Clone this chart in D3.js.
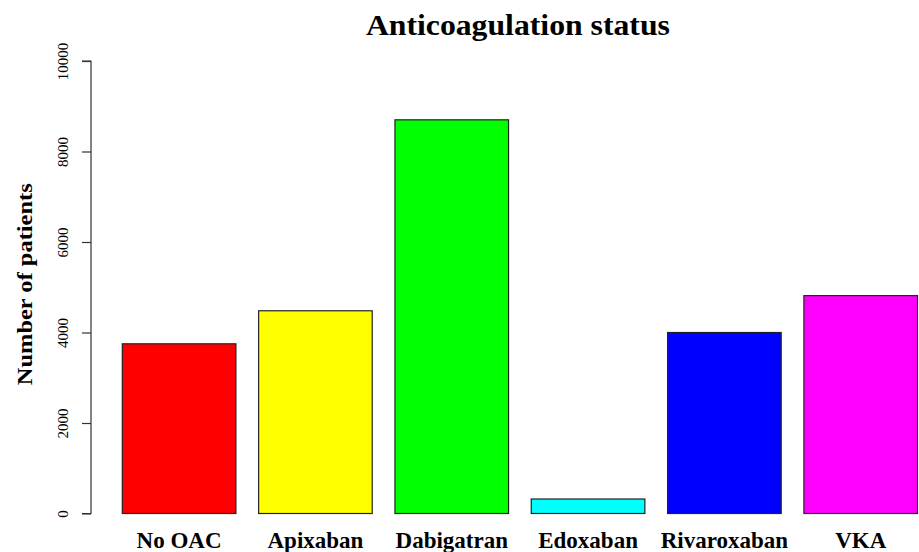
<!DOCTYPE html>
<html>
<head>
<meta charset="utf-8">
<script src="https://cdn.jsdelivr.net/npm/d3@7"></script>
<style>
html,body{margin:0;padding:0;background:#fff;}
svg{display:block;}
text{font-family:"Liberation Serif","Times New Roman",serif;fill:#000;}
</style>
</head>
<body>
<svg id="chart" width="919" height="552"></svg>
<script>
const categories = ["No OAC", "Apixaban", "Dabigatran", "Edoxaban", "Rivaroxaban", "VKA"];
const values = [3750, 4480, 8700, 320, 4000, 4815];
const colors = ["#ff0000", "#ffff00", "#00ff00", "#00ffff", "#0000ff", "#ff00ff"];
const yTicks = [0, 2000, 4000, 6000, 8000, 10000];
const titleText = "Anticoagulation status";
const yLabel = "Number of patients";

const svg = d3.select("#chart");

// R barplot-like coordinates: bar i spans [0.2 + 1.2 i, 1.2 + 1.2 i]
const x = d3.scaleLinear().domain([-0.08, 7.48]).range([90.5, 90.5 + 7.56 * 113.6]);
const y = d3.scaleLinear().domain([0, 10000]).range([513.5, 61]);

// bars
svg.append("g").selectAll("rect").data(values).join("rect")
  .attr("x", (d, i) => x(0.2 + 1.2 * i))
  .attr("width", (d, i) => x(1.2 + 1.2 * i) - x(0.2 + 1.2 * i))
  .attr("y", d => y(d))
  .attr("height", d => y(0) - y(d))
  .attr("fill", (d, i) => colors[i])
  .attr("stroke", "#222")
  .attr("stroke-width", 1.2);

// y axis
const axis = d3.axisLeft(y).tickValues(yTicks).tickSize(9).tickFormat(d3.format("d"));
const gy = svg.append("g").attr("transform", "translate(91,0)").call(axis);
gy.select(".domain").attr("stroke", "#333").attr("stroke-width", 1.2).attr("d", `M-9,${y(0)}H0V${y(10000)}H-9`);
gy.selectAll(".tick line").attr("stroke", "#333").attr("stroke-width", 1.2);
gy.selectAll(".tick text")
  .attr("font-family", "Liberation Serif")
  .attr("font-size", 15)
  .attr("text-anchor", "middle")
  .attr("x", null)
  .attr("transform", "translate(-23,0) rotate(-90)")
  .attr("y", 0)
  .attr("dy", 0);

// x labels
svg.append("g").selectAll("text").data(categories).join("text")
  .attr("x", (d, i) => x(0.7 + 1.2 * i))
  .attr("y", 548)
  .attr("text-anchor", "middle")
  .attr("font-weight", "bold")
  .attr("font-size", 23)
  .text(d => d);

// title
svg.append("text")
  .attr("x", (x(-0.08) + x(7.48)) / 2 - 2)
  .attr("y", 35)
  .attr("text-anchor", "middle")
  .attr("font-weight", "bold")
  .attr("font-size", 30)
  .attr("textLength", 304)
  .attr("lengthAdjust", "spacingAndGlyphs")
  .text(titleText);

// y label
svg.append("text")
  .attr("transform", `translate(32,${(y(0) + y(10000)) / 2 - 3}) rotate(-90)`)
  .attr("text-anchor", "middle")
  .attr("font-weight", "bold")
  .attr("font-size", 22)
  .attr("textLength", 202)
  .attr("lengthAdjust", "spacingAndGlyphs")
  .text(yLabel);
</script>
</body>
</html>
